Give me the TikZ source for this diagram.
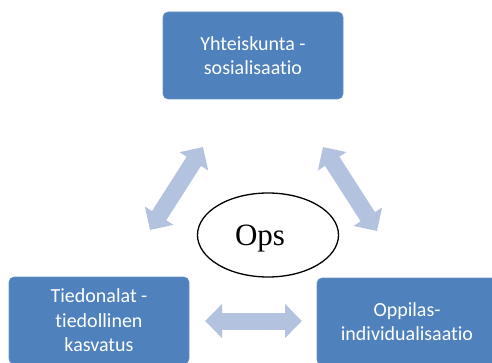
\documentclass[tikz,border=0pt]{standalone}
\usepackage{fontspec}
\setmainfont[Ligatures={NoCommon}]{Carlito}
\newfontfamily\opsfont{Liberation Serif}
\usetikzlibrary{arrows.meta,shapes.geometric}
\definecolor{boxblue}{HTML}{4F81BD}
\definecolor{arrowblue}{HTML}{B3C3DF}
\begin{document}
\begin{tikzpicture}[x=1pt,y=-1pt,
  box/.style={fill=boxblue, draw=boxblue!85!white, line width=0.6pt, rounded corners=5pt,
    minimum width=180pt, minimum height=87pt, align=center, text=white,
    font=\fontsize{20}{24.5}\selectfont, inner sep=0pt},
  dblarrow/.style={arrowblue, line width=17pt,
    {Triangle[length=17pt,width=33pt]}-{Triangle[length=17pt,width=33pt]}}]
\useasboundingbox (0,0) rectangle (492,363);
\node[box] (top) at (253,55.5) {Yhteiskunta -\\sosialisaatio};
\node[box] (left) at (99,320.5) {Tiedonalat -\\tiedollinen\\kasvatus};
\node[box] (right) at (407,321.5) {Oppilas-\\individualisaatio};
\node[ellipse, draw=black, line width=1.3pt, minimum width=141pt, minimum height=84pt,
  inner sep=0pt] (ops) at (268,235) {};
\node[anchor=base, inner sep=0pt, font=\opsfont\fontsize{31}{36}\selectfont] (opstext) at (260,245) {Ops};
\coordinate (la) at (203,147);
\coordinate (lb) at (150,230);
\coordinate (ra) at (323,147);
\coordinate (rb) at (377,231);
\coordinate (ba) at (205,321);
\coordinate (bb) at (302,321);
\draw[dblarrow] (la) -- (lb);
\draw[dblarrow] (ra) -- (rb);
\draw[dblarrow] (ba) -- (bb);
\end{tikzpicture}
\end{document}
